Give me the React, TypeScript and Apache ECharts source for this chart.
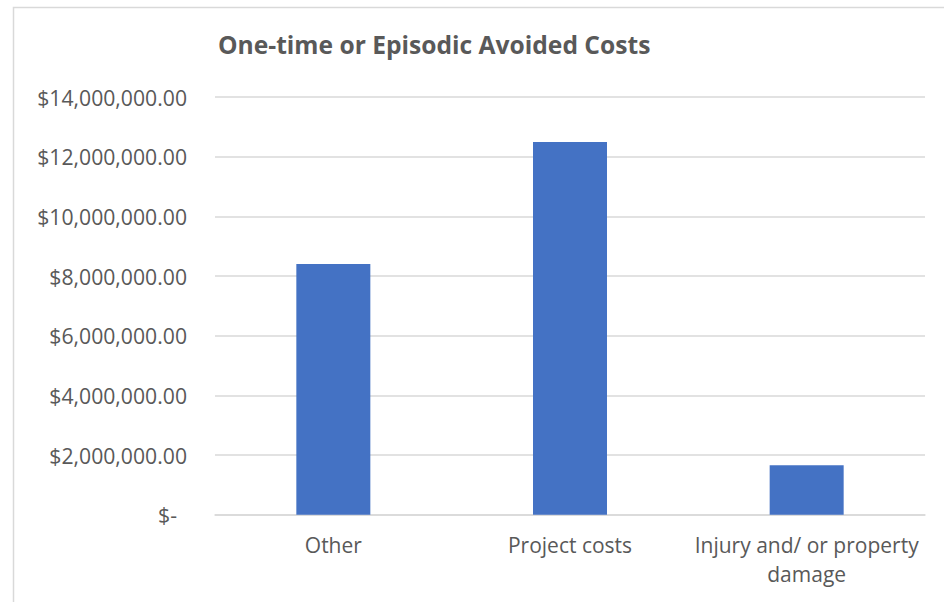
import React, { useEffect, useRef } from "react";
import * as echarts from "echarts";

const categories = ["Other", "Project costs", "Injury and/ or property\ndamage"];
const values = [8400000, 12490000, 1660000];
const titleText = "One-time or Episodic Avoided Costs";

const FONT = "Open Sans";
const GRAY = "#595959";
const LINE = "#d9d9d9";

export default function App() {
  const ref = useRef<HTMLDivElement>(null);
  useEffect(() => {
    if (!ref.current) return;
    const chart = echarts.init(ref.current, null, { renderer: "svg" });
    chart.setOption({
      animation: false,
      backgroundColor: "#ffffff",
      graphic: [
        {
          type: "rect",
          shape: { x: 13.5, y: 7.5, width: 1000, height: 1000 },
          style: { fill: "none", stroke: LINE, lineWidth: 1.5 },
          silent: true,
        },
        {
          type: "text",
          x: 218,
          y: 44,
          style: {
            text: titleText,
            fontFamily: FONT,
            fontSize: 24.6,
            fontWeight: "bold",
            fill: GRAY,
            verticalAlign: "middle",
            align: "left",
          },
        },
      ],
      grid: { left: 215, right: 19, top: 97, bottom: 87.3, containLabel: false },
      xAxis: {
        type: "category",
        data: categories,
        axisLine: { show: true, lineStyle: { color: LINE, width: 1.5 } },
        axisTick: { show: false },
        axisLabel: {
          interval: 0,
          margin: 16,
          color: GRAY,
          fontFamily: FONT,
          fontSize: 21,
          lineHeight: 29,
          align: "center",
        },
      },
      yAxis: {
        type: "value",
        min: 0,
        max: 14000000,
        interval: 2000000,
        axisLine: { show: false },
        axisTick: { show: false },
        splitLine: { show: true, lineStyle: { color: LINE, width: 1.5 } },
        axisLabel: {
          margin: 28,
          color: GRAY,
          fontFamily: FONT,
          fontSize: 21.2,
          formatter: (v: number) =>
            v === 0
              ? "{z|$-}"
              : "$" +
                v.toLocaleString("en-US", {
                  minimumFractionDigits: 2,
                  maximumFractionDigits: 2,
                }),
          rich: {
            z: {
              color: GRAY,
              fontFamily: FONT,
              fontSize: 21.2,
              padding: [0, 10, 0, 0],
            },
          },
        },
      },
      series: [
        {
          type: "bar",
          data: values,
          barWidth: 74,
          itemStyle: { color: "#4472C4" },
        },
      ],
    });
    return () => chart.dispose();
  }, []);
  return (
    <div
      ref={ref}
      style={{ position: "fixed", left: 0, top: 0, width: 944, height: 602 }}
    />
  );
}
